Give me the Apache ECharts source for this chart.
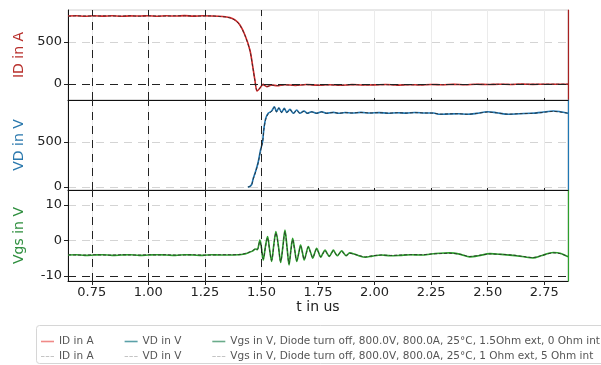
<!DOCTYPE html>
<html>
<head>
<meta charset="utf-8">
<script src="https://cdn.jsdelivr.net/npm/echarts@6/dist/echarts.min.js"></script>
<style>
  html, body { margin: 0; padding: 0; background: #fff; }
  #chart { width: 601px; height: 365px; }
</style>
</head>
<body>
<div id="chart"></div>
<script>
// Drain current ID (A) — time in us
const idT = [0.645,0.68,0.72,0.76,0.80,0.84,0.88,0.92,0.96,1.00,1.04,1.08,1.12,1.16,1.20,1.24,1.28,1.31,1.34,1.36,1.383,1.405,1.427,1.449,1.462,1.471,1.481,1.493,1.507,1.524,1.546,1.57,1.60,1.65,1.70,1.75,1.80,1.85,1.90,1.95,2.00,2.05,2.10,2.15,2.20,2.25,2.30,2.35,2.40,2.45,2.50,2.55,2.60,2.65,2.70,2.75,2.80,2.855];
const idA = [808,812,806,811,807,812,805,810,808,812,806,811,808,813,807,811,809,806,800,790,762,702,583,405,202,48,-83,-51,-4,-32,-12,-20,-8,-16,-6,-14,-9,-15,-7,-12,-10,-6,-13,-8,-11,-5,-9,-4,-8,-3,-6,-2,-5,-1,-4,-2,-3,-2];
const idRef = [806,810,809,808,810,809,808,811,806,810,809,808,811,810,809,808,810,804,797,786,758,698,578,398,196,42,-78,-48,-8,-28,-14,-18,-10,-13,-8,-12,-10,-13,-8,-10,-9,-8,-11,-9,-10,-6,-8,-5,-7,-4,-5,-3,-4,-2,-3,-2,-2,-1];

// Drain voltage VD (V)
const vdT = [1.440,1.449,1.457,1.464,1.476,1.486,1.496,1.505,1.511,1.519,1.530,1.545,1.557,1.567,1.577,1.589,1.601,1.612,1.626,1.641,1.656,1.670,1.688,1.703,1.722,1.744,1.766,1.788,1.818,1.840,1.87,1.90,1.94,1.98,2.02,2.06,2.10,2.14,2.18,2.22,2.26,2.29,2.33,2.37,2.41,2.45,2.50,2.54,2.59,2.64,2.69,2.74,2.79,2.855];
const vdV = [0,8,30,97,189,281,411,503,652,763,819,844,892,837,881,830,874,830,863,819,856,819,844,819,837,819,837,819,830,819,828,822,830,822,827,820,826,821,828,823,822,808,812,815,808,818,837,825,808,815,819,830,844,819];
const vdRef = [0,6,26,90,180,272,400,495,640,752,812,840,886,834,876,828,868,828,858,820,850,820,840,820,834,820,834,820,828,820,826,823,828,823,826,821,825,822,826,823,821,810,813,814,809,817,833,824,810,815,818,828,840,820];

// Gate-source voltage Vgs (V)
const vgsT = [0.645,0.68,0.72,0.76,0.80,0.84,0.88,0.92,0.96,1.00,1.04,1.08,1.12,1.16,1.20,1.24,1.28,1.32,1.36,1.40,1.418,1.44,1.46,1.475,1.482,1.493,1.500,1.508,1.518,1.527,1.536,1.545,1.555,1.564,1.575,1.585,1.595,1.604,1.613,1.622,1.630,1.638,1.647,1.656,1.665,1.673,1.681,1.689,1.698,1.707,1.717,1.727,1.735,1.744,1.753,1.762,1.771,1.781,1.790,1.800,1.809,1.818,1.826,1.835,1.845,1.855,1.864,1.874,1.89,1.91,1.93,1.96,1.99,2.03,2.07,2.11,2.16,2.21,2.25,2.29,2.33,2.38,2.42,2.46,2.51,2.56,2.61,2.66,2.70,2.74,2.79,2.82,2.855];
const vgsV = [-4.1,-4.0,-4.2,-4.1,-4.0,-4.2,-4.1,-4.0,-4.2,-4.1,-4.0,-4.1,-4.2,-4.0,-4.1,-4.2,-4.0,-4.1,-4.1,-4.0,-3.9,-3.5,-3.0,-2.4,-2.6,0.1,-2.0,-5.5,-1.5,1.1,-2.5,-5.9,-1.0,2.5,-1.5,-6.2,-1.5,2.9,-1.8,-6.9,-2.8,0.6,-2.6,-5.9,-3.5,-1.3,-3.3,-5.5,-3.6,-1.7,-3.3,-5.0,-3.6,-2.2,-3.4,-4.7,-3.7,-2.7,-3.6,-4.5,-3.6,-2.7,-3.5,-4.3,-3.6,-2.9,-3.6,-4.3,-3.5,-3.8,-4.3,-4.7,-4.4,-4.1,-4.3,-4.2,-4.0,-4.1,-3.8,-3.6,-3.5,-3.9,-4.6,-4.3,-3.7,-3.9,-4.2,-4.6,-4.9,-4.2,-3.4,-3.6,-4.6];
const vgsRef = [-4.0,-4.1,-4.1,-4.0,-4.1,-4.1,-4.0,-4.1,-4.1,-4.0,-4.1,-4.0,-4.1,-4.1,-4.0,-4.1,-4.1,-4.0,-4.0,-4.0,-3.8,-3.4,-2.9,-2.3,-2.5,-0.3,-2.2,-5.2,-1.8,0.7,-2.7,-5.6,-1.3,2.1,-1.8,-5.9,-1.8,2.5,-2.0,-6.5,-3.0,0.2,-2.8,-5.6,-3.6,-1.6,-3.4,-5.3,-3.7,-1.9,-3.4,-4.8,-3.7,-2.4,-3.5,-4.6,-3.8,-2.9,-3.7,-4.4,-3.7,-2.9,-3.6,-4.2,-3.7,-3.1,-3.7,-4.2,-3.6,-3.9,-4.2,-4.6,-4.3,-4.1,-4.2,-4.1,-4.0,-4.0,-3.8,-3.7,-3.6,-3.9,-4.5,-4.2,-3.8,-3.9,-4.1,-4.5,-4.8,-4.2,-3.5,-3.7,-4.5];

// Axis ticks
const xTicks = [0.75, 1.00, 1.25, 1.50, 1.75, 2.00, 2.25, 2.50, 2.75];
const idTicks = [0, 500];
const vdTicks = [0, 500];
const vgsTicks = [-10, 0, 10];
const darkGridT = [0.75, 1.00, 1.25, 1.50];

const legendMain = ['ID in A', 'VD in V', 'Vgs in V, Diode turn off, 800.0V, 800.0A, 25°C, 1.5Ohm ext, 0 Ohm int'];
const legendRef = ['ID in A', 'VD in V', 'Vgs in V, Diode turn off, 800.0V, 800.0A, 25°C, 1 Ohm ext, 5 Ohm int'];

const RED = '#d62728', BLUE = '#1f77b4', GREEN = '#2ca02c';
const FONT = 'DejaVu Sans';

const pairs = (t, v) => t.map((x, i) => [x, v[i]]);

const darkDash = { color: '#222', width: 1, type: [8, 6] };
function darkLines(extra) {
  return {
    silent: true, symbol: 'none', label: { show: false },
    lineStyle: darkDash,
    data: darkGridT.map(t => ({ xAxis: t })).concat(extra)
  };
}

const grids = [
  { left: 68, right: 33, top: 10, height: 90 },
  { left: 68, right: 33, top: 100, height: 90 },
  { left: 68, right: 33, top: 190, height: 91 }
].map(g => Object.assign(g, { show: true, borderColor: '#d0d0d0', borderWidth: 1 }));

function xAxis(i, showLabels) {
  return {
    type: 'value', gridIndex: i, min: 0.645, max: 2.855,
    axisLine: { show: true, onZero: false, lineStyle: { color: '#111', width: 1 } },
    axisTick: showLabels
      ? { show: true, length: 4, lineStyle: { color: '#222' }, customValues: xTicks }
      : { show: true, inside: true, length: 2, lineStyle: { color: '#222' }, customValues: xTicks },
    axisLabel: showLabels
      ? { show: true, customValues: xTicks, formatter: v => v.toFixed(2), color: '#222', fontSize: 13, fontFamily: FONT, margin: 5 }
      : { show: false, customValues: xTicks },
    splitLine: { show: true, lineStyle: { color: '#ebebeb', width: 1 } },
    name: showLabels ? 't in us' : '',
    nameLocation: 'middle', nameGap: 13,
    nameTextStyle: { color: '#222', fontSize: 14, fontFamily: FONT, verticalAlign: 'top' }
  };
}

function yAxisLeft(i, min, max, ticks, name, color) {
  return {
    type: 'value', gridIndex: i, min: min, max: max, position: 'left',
    axisLine: { show: true, onZero: false, lineStyle: { color: '#111', width: 1 } },
    axisTick: { show: true, length: 4, lineStyle: { color: '#222' }, customValues: ticks },
    axisLabel: { customValues: ticks, color: '#222', fontSize: 13, fontFamily: FONT, margin: 6 },
    splitLine: { show: true, lineStyle: { color: '#d4d4d4', width: 1, type: [8, 6] } },
    name: name, nameLocation: 'middle', nameGap: 42, nameRotate: 90,
    nameTextStyle: { color: color, fontSize: 14, fontFamily: FONT }
  };
}
function yAxisRight(i, min, max, color) {
  return {
    type: 'value', gridIndex: i, min: min, max: max, position: 'right',
    axisLine: { show: true, onZero: false, lineStyle: { color: color, width: 1.2 } },
    axisTick: { show: false }, axisLabel: { show: false }, splitLine: { show: false }
  };
}

function lineSeries(name, xi, yi, data, style, z, markLine) {
  const s = {
    name: name, type: 'line', xAxisIndex: xi, yAxisIndex: yi,
    data: data, showSymbol: false, symbol: 'none', smooth: 0.3,
    lineStyle: style, z: z, animation: false, clip: true
  };
  if (markLine) s.markLine = markLine;
  return s;
}

const mainStyle = c => ({ color: c, width: 1.6 });
const refStyle = { color: '#2a2a2a', width: 1, type: [3, 2], opacity: 0.85 };

const series = [
  lineSeries(legendMain[0], 0, 0, pairs(idT, idA), mainStyle(RED), 3, darkLines([{ yAxis: 0 }])),
  lineSeries(legendMain[1], 1, 2, pairs(vdT, vdV), mainStyle(BLUE), 3, darkLines([])),
  lineSeries(legendMain[2], 2, 4, pairs(vgsT, vgsV), mainStyle(GREEN), 3, darkLines([{ yAxis: -10 }])),
  lineSeries('ref-id', 0, 0, pairs(idT, idRef), refStyle, 4),
  lineSeries('ref-vd', 1, 2, pairs(vdT, vdRef), refStyle, 4),
  lineSeries('ref-vgs', 2, 4, pairs(vgsT, vgsRef), refStyle, 4)
];

const refLabel = { 'ref-id': legendRef[0], 'ref-vd': legendRef[1], 'ref-vgs': legendRef[2] };
const dashIcon = 'path://M0,0h4v1h-4z M5.5,0h4v1h-4z M11,0h4v1h-4z';

const legendBase = {
  left: 41, padding: 0, itemGap: 31, itemWidth: 13, itemHeight: 1.6,
  selectedMode: false,
  textStyle: { color: '#555', fontSize: 10.5, fontFamily: FONT, padding: [0, 0, 0, 0] }
};

const option = {
  backgroundColor: '#fff',
  animation: false,
  textStyle: { fontFamily: FONT },
  grid: grids,
  xAxis: [xAxis(0, false), xAxis(1, false), xAxis(2, true)],
  yAxis: [
    yAxisLeft(0, -190, 880, idTicks, 'ID in A', '#b8302c'), yAxisRight(0, -190, 880, '#a82020'),
    yAxisLeft(1, -33, 967, vdTicks, 'VD in V', '#2a78ad'), yAxisRight(1, -33, 967, BLUE),
    yAxisLeft(2, -11.4, 14.2, vgsTicks, 'Vgs in V', '#2f8f3f'), yAxisRight(2, -11.4, 14.2, GREEN)
  ],
  legend: [
    Object.assign({}, legendBase, {
      top: 336, icon: 'rect',
      data: [
        { name: legendMain[0], itemStyle: { color: '#f08a88' } },
        { name: legendMain[1], itemStyle: { color: '#5aa0a8' } },
        { name: legendMain[2], itemStyle: { color: '#6aab8a' } }
      ]
    }),
    Object.assign({}, legendBase, {
      top: 351, icon: dashIcon,
      formatter: n => refLabel[n] || n,
      data: ['ref-id', 'ref-vd', 'ref-vgs'].map(n => ({ name: n, itemStyle: { color: '#c4c4c4' } }))
    })
  ],
  graphic: [{
    type: 'rect', left: 36, top: 325, z: 0,
    shape: { width: 580, height: 38, r: 3 },
    style: { fill: '#fff', stroke: '#d6d6d6', lineWidth: 1 }
  }],
  series: series
};

const chart = echarts.init(document.getElementById('chart'), null, { renderer: 'canvas' });
chart.setOption(option);
</script>
</body>
</html>
